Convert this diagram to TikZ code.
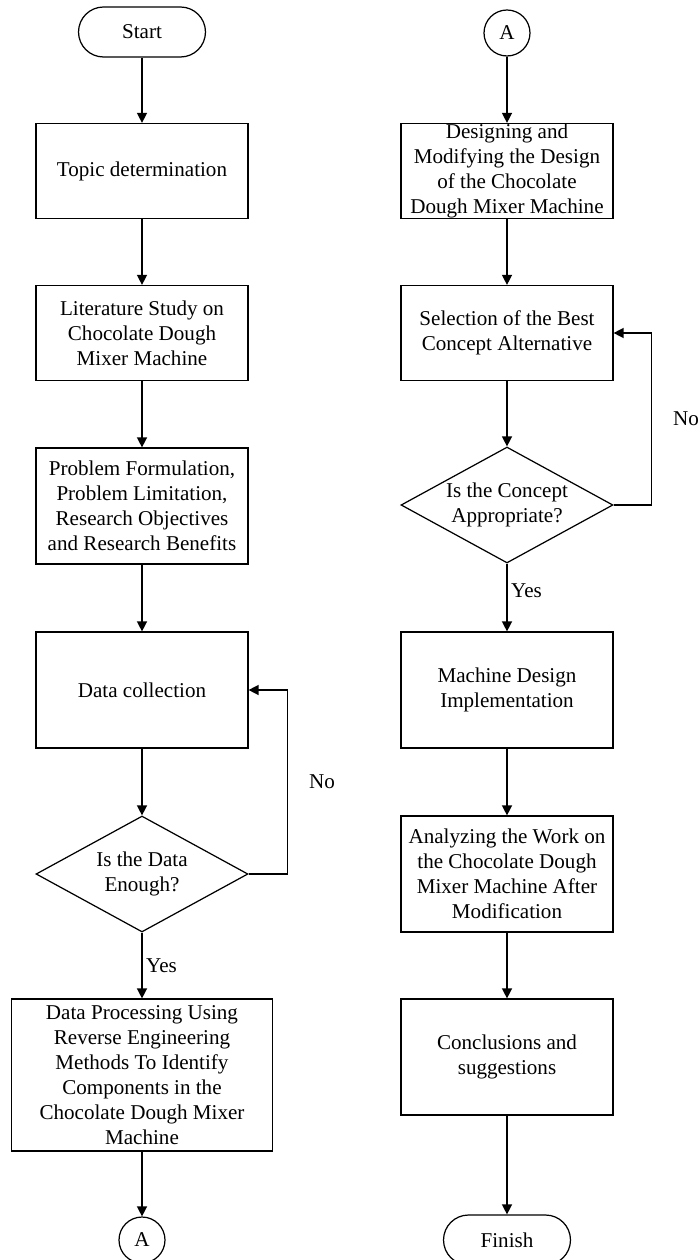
\documentclass[tikz,border=0pt]{standalone}
\usepackage{fontspec}
\setmainfont{Liberation Serif}
\usetikzlibrary{arrows.meta,shapes.geometric}

\begin{document}
\begin{tikzpicture}[
    x=0.02cm, y=-0.02cm,
    every node/.style={font=\fontsize{12}{14.2}\selectfont},
    procbox/.style={draw, line width=0.7pt, minimum width=4.24cm, minimum height=#1, align=center, inner sep=0pt},
    procbox/.default=1.9cm,
    terminal/.style={draw, line width=0.7pt, rounded corners=0.5cm, minimum width=2.54cm, minimum height=1cm},
    connector/.style={draw, line width=0.7pt, circle, minimum size=0.92cm, inner sep=0pt},
    decision/.style={draw, line width=0.7pt, diamond, aspect=1.83, minimum width=4.24cm, minimum height=2.32cm, align=center, inner sep=0pt},
    arrow/.style={-{Triangle[length=0.2cm,width=0.2cm]}, line width=0.8pt},
    answer/.style={inner sep=2pt},
]
\useasboundingbox (0,0) rectangle (699,1260);

% left column
\node[terminal] (start) at (142,32) {Start};
\node[procbox] (topic) at (142,171) {Topic determination};
\node[procbox] (litstudy) at (142,333) {Literature Study on\\Chocolate Dough\\Mixer Machine};
\node[procbox=2.32cm] (problem) at (142,506) {Problem Formulation,\\Problem Limitation,\\Research Objectives\\and Research Benefits};
\node[procbox=2.32cm] (datacol) at (142,690) {Data collection};
\node[decision] (enough) at (142,874) {Is the Data\\Enough?};
\node[procbox=3.04cm, minimum width=5.22cm] (dataproc) at (142,1075) {Data Processing Using\\Reverse Engineering\\Methods To Identify\\Components in the\\Chocolate Dough Mixer\\Machine};
\node[connector] (outA) at (142,1240) {A};

% right column
\node[connector] (inA) at (507,33) {A};
\node[procbox] (design) at (507,171) {Designing and\\Modifying the Design\\of the Chocolate\\Dough Mixer Machine};
\node[procbox] (select) at (507,333) {Selection of the Best\\Concept Alternative};
\node[decision] (concept) at (507,505) {Is the Concept\\Appropriate?};
\node[procbox=2.32cm] (implement) at (507,690) {Machine Design\\Implementation};
\node[procbox=2.32cm] (analyze) at (507,874) {Analyzing the Work on\\the Chocolate Dough\\Mixer Machine After\\Modification};
\node[procbox=2.32cm] (conclude) at (507,1057) {Conclusions and\\suggestions};
\node[terminal] (finish) at (507,1240) {Finish};

\foreach \a/\b in {start/topic, topic/litstudy, litstudy/problem, problem/datacol, datacol/enough, dataproc/outA,
                   inA/design, design/select, select/concept, implement/analyze, analyze/conclude, conclude/finish} {
    \draw[arrow] (\a) -- (\b);
}
\draw[arrow] (enough) -- node[answer, right] {Yes} (dataproc);
\draw[arrow] (concept) -- node[answer, right, pos=0.4] {Yes} (implement);

% loops back
\draw[arrow] (enough.east) -- ++(39,0) |- node[pos=0.25, right=0.3cm] {No} (datacol.east);
\draw[arrow] (concept.east) -- ++(38,0) |- node[pos=0.25, right=0.3cm] {No} (select.east);
\end{tikzpicture}
\end{document}
